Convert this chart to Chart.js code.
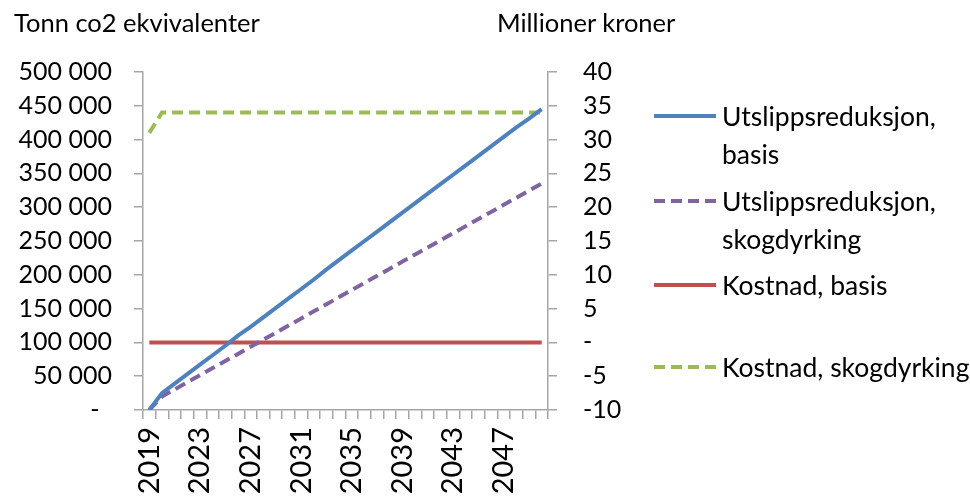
<!DOCTYPE html>
<html>
<head>
<meta charset="utf-8">
<script src="https://cdn.jsdelivr.net/npm/chart.js@4.4.1/dist/chart.umd.min.js"></script>
<style>
  html, body { margin: 0; padding: 0; background: #fff; }
  #wrap { position: relative; width: 970px; height: 502px; font-family: Lato, "Open Sans", sans-serif; color: #000; }
  #wrap canvas { position: absolute; left: 0; top: 0; }
  .title { position: absolute; top: 7px; font-size: 25.5px; line-height: 30px; white-space: nowrap; }
  .entry { position: absolute; left: 653px; font-size: 26.5px; line-height: 38px; white-space: nowrap; }
  .entry svg { position: absolute; left: 0; top: 16px; }
  .entry span { display: block; padding-left: 69px; }
</style>
</head>
<body>
<div id="wrap">
  <canvas id="c" width="970" height="502"></canvas>
  <div class="title" style="left:14px">Tonn co2 ekvivalenter</div>
  <div class="title" style="left:497px">Millioner kroner</div>
  <div id="legend"></div>
</div>
<script>
// Years on the category axis
const years = ['2019','2020','2021','2022','2023','2024','2025','2026','2027','2028','2029','2030',
  '2031','2032','2033','2034','2035','2036','2037','2038','2039','2040','2041','2042','2043',
  '2044','2045','2046','2047','2048','2049','2050'];

// Emission reductions, tonnes CO2 equivalents (left axis)
const utslippBasis = [0, 25000, 39000, 53000, 67000, 81000, 95000, 110000, 123000, 137000, 151000,
  165000, 179000, 193000, 208000, 222000, 236000, 250000, 264000, 278000, 292000, 306000, 320000,
  334000, 348000, 362000, 376000, 390000, 404000, 418000, 431000, 445000];
const utslippSkog = [0, 20000, 30500, 41000, 51500, 62000, 72500, 83000, 93500, 104000, 114500,
  125000, 135500, 146000, 156500, 167000, 177500, 188000, 198500, 209000, 219500, 230000, 240500,
  251000, 261500, 272000, 282500, 293000, 303500, 314000, 324500, 335000];

// Costs, million NOK (right axis)
const kostnadBasis = [0, 0, 0, 0, 0, 0, 0, 0, 0, 0, 0, 0, 0, 0, 0, 0, 0, 0, 0, 0, 0, 0, 0, 0, 0, 0,
  0, 0, 0, 0, 0, 0];
const kostnadSkog = [31, 34, 34, 34, 34, 34, 34, 34, 34, 34, 34, 34, 34, 34, 34, 34, 34, 34, 34, 34,
  34, 34, 34, 34, 34, 34, 34, 34, 34, 34, 34, 34];

// Every fourth year gets a label
const labelEvery = 4;

const series = [
  { label: ['Utslippsreduksjon,', 'basis'], data: utslippBasis, color: '#4f81bd', dash: [], axis: 'yL', y: 116 },
  { label: ['Utslippsreduksjon,', 'skogdyrking'], data: utslippSkog, color: '#8064a2', dash: [11, 6], axis: 'yL', y: 201 },
  { label: ['Kostnad, basis'], data: kostnadBasis, color: '#c0504d', dash: [], axis: 'yR', y: 285 },
  { label: ['Kostnad, skogdyrking'], data: kostnadSkog, color: '#9bbb59', dash: [11, 6], axis: 'yR', y: 367 }
];

const axisColor = '#a6a6a6';
const tickFont = { family: 'Lato, "Open Sans", sans-serif', size: 25 };

// Accounting-style number: space as thousands separator, a dash for zero
function accounting(v, zeroPad) {
  if (v === 0) return '-' + zeroPad;
  const s = String(Math.abs(v)).replace(/\B(?=(\d{3})+(?!\d))/g, ' ');
  return (v < 0 ? '-' : '') + s;
}

new Chart(document.getElementById('c'), {
  type: 'line',
  data: {
    labels: years,
    datasets: series.map(s => ({
      label: s.label.join(' '),
      data: s.data,
      yAxisID: s.axis,
      borderColor: s.color,
      backgroundColor: s.color,
      borderWidth: 4,
      borderDash: s.dash,
      pointRadius: 0,
      tension: 0,
      fill: false
    }))
  },
  options: {
    responsive: false,
    animation: false,
    layout: { padding: { top: 72, left: 0, right: 0, bottom: 0 } },
    plugins: { legend: { display: false }, tooltip: { enabled: false } },
    scales: {
      x: {
        type: 'category',
        offset: true,
        grid: { offset: true, drawOnChartArea: false, drawTicks: true, tickLength: 9, color: axisColor, lineWidth: 1.5 },
        border: { color: axisColor, width: 1.5 },
        ticks: {
          autoSkip: false,
          maxRotation: 90,
          minRotation: 90,
          padding: 8,
          color: '#000',
          font: { family: tickFont.family, size: 29 },
          callback: function (val, i) { return i % labelEvery === 0 ? this.getLabelForValue(val) : ''; }
        },
        afterFit: s => { s.height = 92; }
      },
      yL: {
        position: 'left',
        min: 0, max: 500000,
        grid: { drawOnChartArea: false, drawTicks: true, tickLength: 9, color: axisColor, lineWidth: 1.5 },
        border: { color: axisColor, width: 1.5 },
        ticks: { stepSize: 50000, padding: 22, color: '#000', font: tickFont, callback: v => accounting(v, '\u2002') },
        afterFit: s => { s.width = 143; }
      },
      yR: {
        position: 'right',
        min: -10, max: 40,
        grid: { drawOnChartArea: false, drawTicks: true, tickLength: 9, color: axisColor, lineWidth: 1.5 },
        border: { color: axisColor, width: 1.5 },
        ticks: { stepSize: 5, padding: 26, color: '#000', font: tickFont, callback: v => accounting(v, '') },
        afterFit: s => { s.width = 970 - 548; }
      }
    }
  }
});

// Legend beside the plot
const legend = document.getElementById('legend');
series.forEach(s => {
  const e = document.createElement('div');
  e.className = 'entry';
  e.style.top = (s.y - 19) + 'px';
  const dash = s.dash.length ? ` stroke-dasharray="${s.dash.join(' ')}"` : '';
  e.innerHTML = `<svg width="64" height="6"><line x1="1" y1="3" x2="63" y2="3" stroke="${s.color}" stroke-width="4"${dash}/></svg>` +
    s.label.map(t => `<span>${t}</span>`).join('');
  legend.appendChild(e);
});
</script>
</body>
</html>
